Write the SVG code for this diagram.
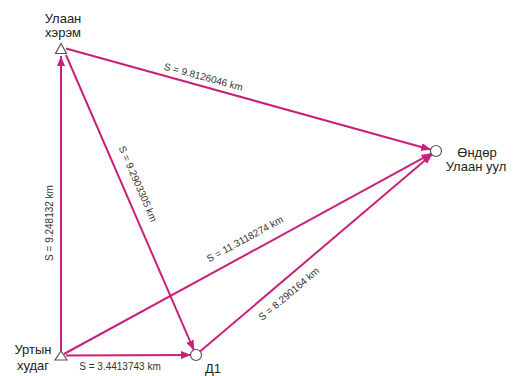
<svg xmlns="http://www.w3.org/2000/svg" width="522" height="376" viewBox="0 0 522 376">
<defs>
<marker id="ah" markerWidth="10" markerHeight="8" refX="10" refY="4" orient="auto" markerUnits="userSpaceOnUse">
<path d="M0,0 L10,4 L0,8 z" fill="#c8217c"/>
</marker>
</defs>
<style>
.edge{stroke:#c8217c;stroke-width:2;fill:none;marker-end:url(#ah)}
.dist{font-family:"Liberation Sans",Arial,sans-serif;font-size:10px;fill:#333;text-anchor:middle}
.name{font-family:"Liberation Sans",Arial,sans-serif;font-size:13px;fill:#222;text-anchor:middle}
.node{fill:#fff;stroke:#555;stroke-width:1.2}
</style>
<rect width="522" height="376" fill="#fff"/>
<g id="connectors">
<path class="edge" d="M61,351 L61,56"/>
<path class="edge" d="M66,48.5 L431.2,149.7"/>
<path class="edge" d="M66,55 L194,350.4"/>
<path class="edge" d="M64,354 L431.6,153.4"/>
<path class="edge" d="M66,355.5 L191,355"/>
<path class="edge" d="M200,351.5 L432.2,154.3"/>
<text class="dist" transform="translate(202.5,80.2) rotate(15.4)">S = 9.8126046 km</text>
<text class="dist" transform="translate(134.8,185.2) rotate(66.5)">S = 9.2903305 km</text>
<text class="dist" transform="translate(53,223) rotate(-90)">S = 9.248132 km</text>
<text class="dist" transform="translate(246.5,242) rotate(-28.6)">S = 11.3118274 km</text>
<text class="dist" transform="translate(291,296.5) rotate(-40.4)">S = 8.290164 km</text>
<text class="dist" x="120" y="370">S = 3.4413743 km</text>
</g>
<g id="ulaan-kherem">
<polygon class="node" points="61,43.5 55.5,53.5 66.5,53.5"/>
<text class="name" x="63" y="23">Улаан</text>
<text class="name" x="63" y="37">хэрэм</text>
</g>
<g id="urtyn-khudag">
<polygon class="node" points="61,351 55,360 67,360"/>
<text class="name" x="33" y="354">Уртын</text>
<text class="name" x="33" y="370">худаг</text>
</g>
<g id="d1">
<circle class="node" cx="196" cy="355" r="5.5"/>
<text class="name" x="205" y="373" style="text-anchor:start">Д1</text>
</g>
<g id="ondor-ulaan-uul">
<circle class="node" cx="436" cy="151" r="5.5"/>
<text class="name" x="477" y="157">Өндөр</text>
<text class="name" x="476" y="171">Улаан уул</text>
</g>
</svg>
